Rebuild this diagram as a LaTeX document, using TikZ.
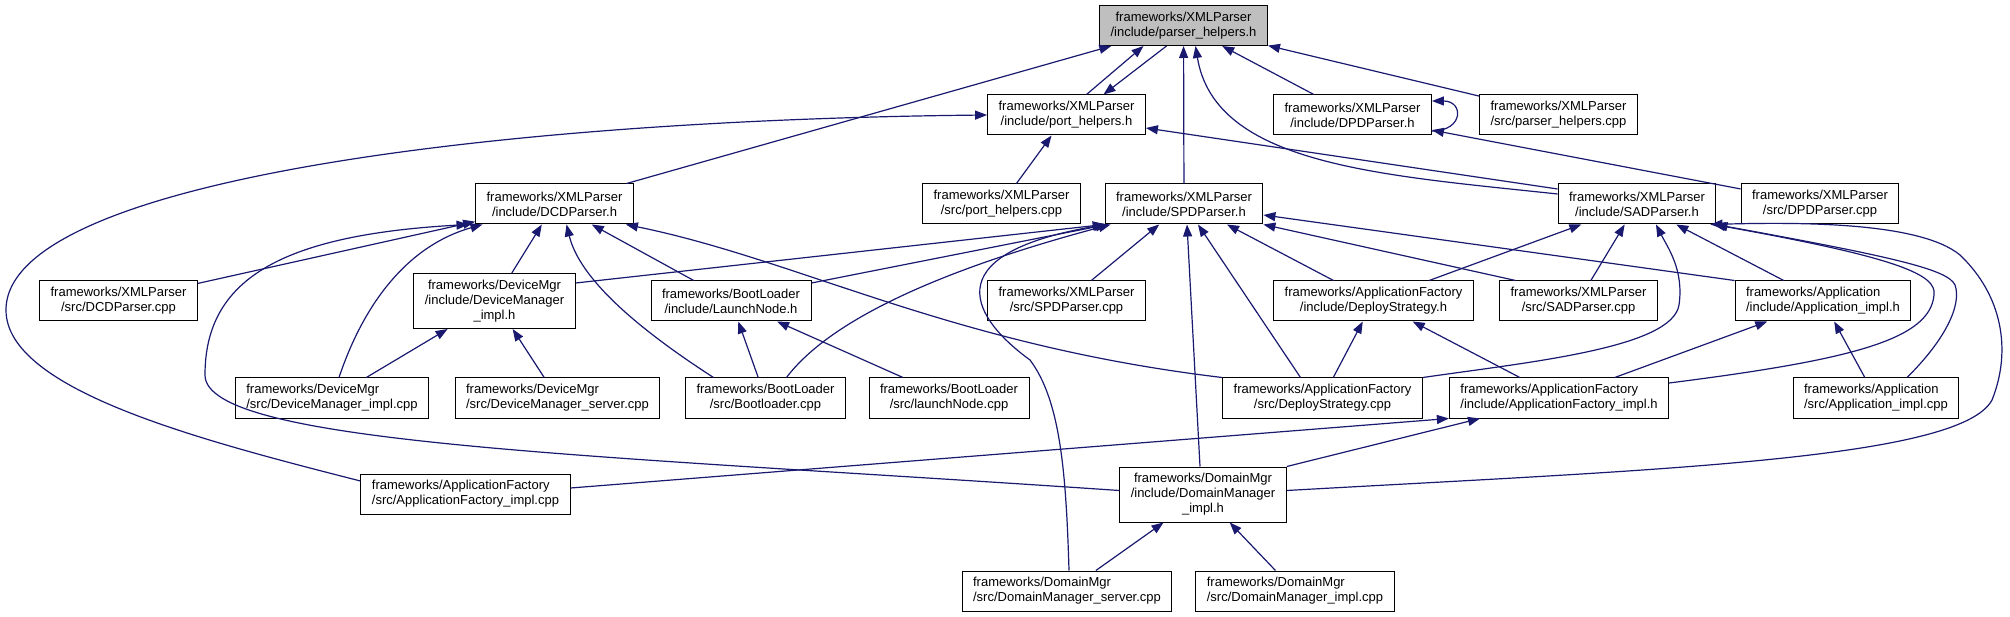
\documentclass[tikz,border=0pt]{standalone}
\usepackage{fontspec}
\setmainfont{Liberation Sans}
\usetikzlibrary{arrows.meta}
\definecolor{edgeblue}{RGB}{25,25,112}
\begin{document}
\begin{tikzpicture}[x = 1pt, y = -1pt,
	file/.style = {draw = black, fill = white, line width = 1pt, font = \fontsize{13}{15}\selectfont,
		align = center, inner xsep = 11pt, inner ysep = 0pt, minimum height = 40pt},
	fileL/.style = {file, align = left},
	tall/.style = {minimum height = 55pt},
	inc/.style = {draw = edgeblue, line width = 1.2pt, -{Triangle[length = 12pt, width = 9pt]}}]
\useasboundingbox (0,0) rectangle (2010,617);
\node[file, fill = black!25] (phh) at (1183.5,25.5) {frameworks/XMLParser\\/include/parser\_helpers.h};
\node[file] (porth) at (1066.5,115) {frameworks/XMLParser\\/include/port\_helpers.h};
\node[file] (dpdh) at (1352.5,115) {frameworks/XMLParser\\/include/DPDParser.h};
\node[file] (phcpp) at (1558.5,115) {frameworks/XMLParser\\/src/parser\_helpers.cpp};
\node[file] (dcdh) at (554.5,204) {frameworks/XMLParser\\/include/DCDParser.h};
\node[file] (portcpp) at (1001.5,204) {frameworks/XMLParser\\/src/port\_helpers.cpp};
\node[file] (spdh) at (1184,204) {frameworks/XMLParser\\/include/SPDParser.h};
\node[file] (sadh) at (1637,204) {frameworks/XMLParser\\/include/SADParser.h};
\node[file] (dpdcpp) at (1820,204) {frameworks/XMLParser\\/src/DPDParser.cpp};
\node[file] (dcdcpp) at (118.5,301) {frameworks/XMLParser\\/src/DCDParser.cpp};
\node[file, tall] (devimplh) at (494.5,301) {frameworks/DeviceMgr\\/include/DeviceManager\\\_impl.h};
\node[file] (launchh) at (731,301) {frameworks/BootLoader\\/include/LaunchNode.h};
\node[file] (spdcpp) at (1066.5,301) {frameworks/XMLParser\\/src/SPDParser.cpp};
\node[file] (dsh) at (1373.5,301) {frameworks/ApplicationFactory\\/include/DeployStrategy.h};
\node[file] (sadcpp) at (1578.5,301) {frameworks/XMLParser\\/src/SADParser.cpp};
\node[fileL] (appimplh) at (1823,301) {frameworks/Application\\/include/Application\_impl.h};
\node[fileL] (devimplcpp) at (332,398) {frameworks/DeviceMgr\\/src/DeviceManager\_impl.cpp};
\node[fileL] (devservcpp) at (557.5,398) {frameworks/DeviceMgr\\/src/DeviceManager\_server.cpp};
\node[file] (bootcpp) at (765.5,398) {frameworks/BootLoader\\/src/Bootloader.cpp};
\node[file] (launchcpp) at (949,398) {frameworks/BootLoader\\/src/launchNode.cpp};
\node[file] (dscpp) at (1322.5,398) {frameworks/ApplicationFactory\\/src/DeployStrategy.cpp};
\node[fileL] (afimplh) at (1559,398) {frameworks/ApplicationFactory\\/include/ApplicationFactory\_impl.h};
\node[fileL] (appimplcpp) at (1876,398) {frameworks/Application\\/src/Application\_impl.cpp};
\node[fileL] (afimplcpp) at (465.5,494) {frameworks/ApplicationFactory\\/src/ApplicationFactory\_impl.cpp};
\node[file, tall] (domimplh) at (1203,494.5) {frameworks/DomainMgr\\/include/DomainManager\\\_impl.h};
\node[fileL] (domservcpp) at (1067,591) {frameworks/DomainMgr\\/src/DomainManager\_server.cpp};
\node[fileL] (domimplcpp) at (1295,591) {frameworks/DomainMgr\\/src/DomainManager\_impl.cpp};
\foreach \a/\b in {dcdh/phh, dpdh/phh, phcpp/phh, spdh/phh, portcpp/porth, dpdcpp/dpdh,
	dcdcpp/dcdh, devimplh/dcdh, launchh/dcdh, spdcpp/spdh, dsh/sadh, sadcpp/sadh, appimplh/sadh,
	afimplh/appimplh, appimplcpp/appimplh, dscpp/dsh, afimplh/dsh, devimplcpp/devimplh,
	devservcpp/devimplh, bootcpp/launchh, launchcpp/launchh, domservcpp/domimplh, domimplcpp/domimplh}
{
	\draw[inc] (\a) -- (\b);
}
\draw[inc] ([xshift=20pt]porth.north) -- ([xshift=-40pt]phh.south);
\draw[inc] ([xshift=-17pt]phh.south) -- ([xshift=37pt]porth.north);
\draw[inc] ([yshift=15pt]sadh.west) -- ([yshift=-13pt]porth.east);
\draw[inc] ([yshift=18pt]devimplh.east) -- (spdh.south west);
\draw[inc] ([yshift=18pt]launchh.east) -- ([xshift=3pt]spdh.south west);
\draw[inc] ([xshift=-3pt]domimplh.north) -- ([xshift=3pt]spdh.south);
\draw[inc] ([xshift=-22pt]dscpp.north) -- ([xshift=14pt]spdh.south);
\draw[inc] ([xshift=-40pt]dsh.north) -- ([xshift=43pt]spdh.south);
\draw[inc] ([xshift=-63pt]sadcpp.north) -- (spdh.south east);
\draw[inc] (appimplh.north west) -- ([yshift=-11pt]spdh.east);
\draw[inc] ([yshift=6pt]afimplcpp.east) -- (afimplh.south west);
\draw[inc] (domimplh.north east) -- ([xshift=-79pt]afimplh.south);
\draw[inc] ([yshift=10pt]sadh.west) .. controls (1380,175) and (1215,165) .. ([xshift=12pt]phh.south);
\draw[inc] ([yshift=13pt]afimplcpp.west) .. controls (200,440) and (6,390) .. (6,310)
	.. controls (6,180) and (500,120) .. (porth.west);
\draw[inc] ([yshift=-16pt]dpdh.east) .. controls +(32,0) and +(32,0) .. ([yshift=14pt]dpdh.east);
\draw[inc] ([xshift=7pt]devimplcpp.north) .. controls (365,300) and (410,245) .. ([xshift=-72pt]dcdh.south);
\draw[inc] ([xshift=-52pt]bootcpp.north) .. controls (640,330) and (580,280) .. ([xshift=12pt]dcdh.south);
\draw[inc] (dscpp.north west) .. controls (950,345) and (800,260) .. ([xshift=-8pt]dcdh.south east);
\draw[inc] ([yshift=4pt]domimplh.west) .. controls (600,455) and (205,445) .. (205,375)
	.. controls (205,280) and (280,235) .. ([xshift=-86pt]dcdh.south);
\draw[inc] ([xshift=21pt]bootcpp.north) .. controls (830,320) and (940,270) .. ([xshift=6pt]spdh.south west);
\draw[inc] ([xshift=2pt]domservcpp.north) .. controls (1066,470) and (1060,400) .. (1030,360)
	.. controls (975,320) and (930,255) .. ([xshift=1pt]spdh.south west);
\draw[inc] (dscpp.north east) .. controls (1530,362) and (1672,348) .. (1679,305)
	.. controls (1684,270) and (1668,248) .. ([xshift=19pt]sadh.south);
\draw[inc] ([yshift=15pt]afimplh.east) .. controls (1850,360) and (1930,340) .. (1934,295)
	.. controls (1937,275) and (1900,258) .. ([xshift=-3pt]sadh.south east);
\draw[inc] ([xshift=31pt]appimplcpp.north) .. controls (1945,340) and (1962,305) .. (1955,285)
	.. controls (1948,270) and (1900,258) .. ([xshift=-1pt]sadh.south east);
\draw[inc] ([yshift=4pt]domimplh.east) .. controls (1650,470) and (1960,460) .. (1992,400)
	.. controls (2012,350) and (2002,295) .. (1960,255)
	.. controls (1920,222) and (1800,222) .. ([xshift=-6pt]sadh.south east);
\end{tikzpicture}
\end{document}
